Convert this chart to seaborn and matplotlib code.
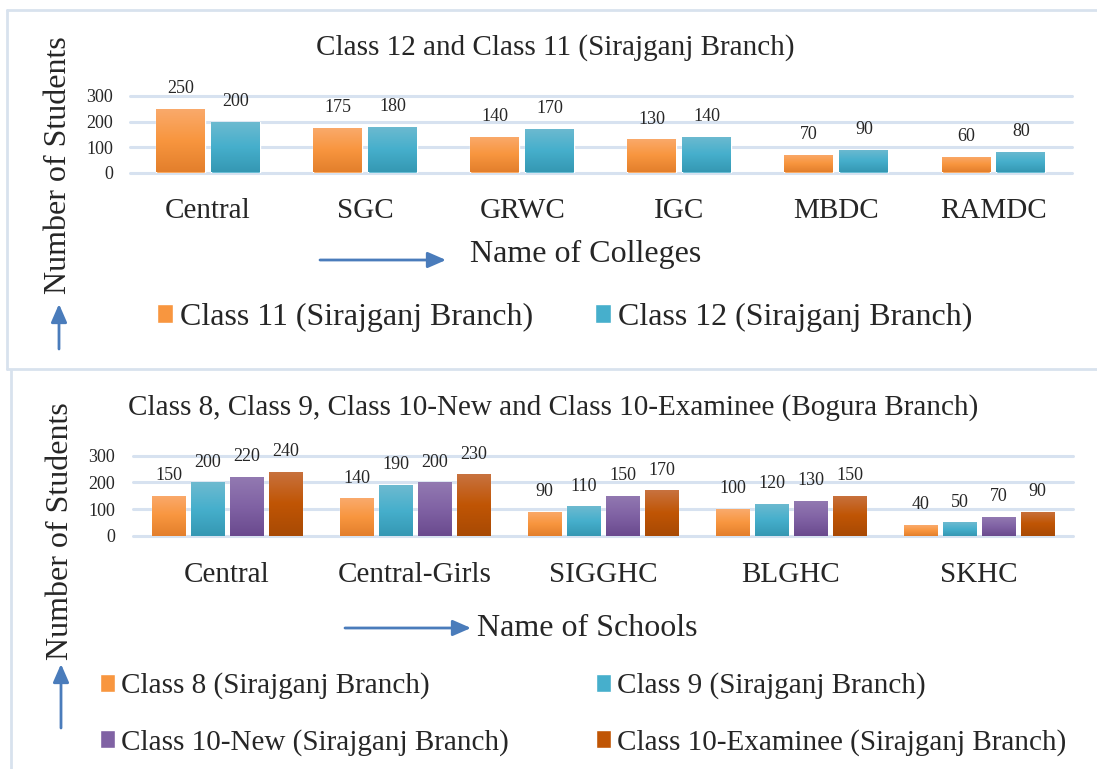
import numpy as np
import pandas as pd
import matplotlib
matplotlib.use("Agg")
import matplotlib.pyplot as plt
import seaborn as sns
from matplotlib.patches import FancyArrowPatch
from matplotlib.lines import Line2D
from matplotlib.colors import to_rgb

# ---------------- data ----------------
colleges = ["Central", "SGC", "GRWC", "IGC", "MBDC", "RAMDC"]
class11 = [250, 175, 140, 130, 70, 60]
class12 = [200, 180, 170, 140, 90, 80]
college_series = ["Class 11 (Sirajganj Branch)", "Class 12 (Sirajganj Branch)"]

schools = ["Central", "Central-Girls", "SIGGHC", "BLGHC", "SKHC"]
class8 = [150, 140, 90, 100, 40]
class9 = [200, 190, 110, 120, 50]
class10_new = [220, 200, 150, 130, 70]
class10_exam = [240, 230, 170, 150, 90]
school_series = ["Class 8 (Sirajganj Branch)", "Class 9 (Sirajganj Branch)",
                 "Class 10-New (Sirajganj Branch)", "Class 10-Examinee (Sirajganj Branch)"]

top_title = "Class 12 and Class 11 (Sirajganj Branch)"
bottom_title = "Class 8, Class 9, Class 10-New and Class 10-Examinee (Bogura Branch)"
yticks = [0, 100, 200, 300]

# ---------------- style ----------------
sns.set_style("white")
plt.rcParams["font.family"] = ["Liberation Serif", "DejaVu Serif"]

W, H = 1097, 769
fig = plt.figure(figsize=(W / 100, H / 100), dpi=100)

mid_cols = ["#F8963F", "#46AFCC", "#8062A4", "#C05504"]
top_cols = ["#FAAA6C", "#6DBAD0", "#9279B1", "#C8723F"]
bot_cols = ["#E37F2C", "#3598B3", "#6A4A8E", "#A84A05"]
grid_col = "#D7E2F0"
arrow_col = "#4A7CBB"
border_col = "#D8E2EE"


def px(x, y):
    return x / W, 1 - y / H


def ftext(x, y, s, **kw):
    fx, fy = px(x, y)
    return fig.text(fx, fy, s, **kw)


def add_gradient(ax, ci, container):
    c_top = np.array(to_rgb(top_cols[ci]))
    c_mid = np.array(to_rgb(mid_cols[ci]))
    c_bot = np.array(to_rgb(bot_cols[ci]))
    t = np.linspace(0, 1, 64)[:, None]  # 0 bottom -> 1 top
    grad = np.where(t < 0.5,
                    c_bot + (c_mid - c_bot) * (t / 0.5),
                    c_mid + (c_top - c_mid) * ((t - 0.5) / 0.5))
    img = grad[:, None, :]
    for p in container.patches:
        x0, y0, w, h = p.get_x(), p.get_y(), p.get_width(), p.get_height()
        im = ax.imshow(img, extent=[x0, x0 + w, y0, y0 + h], origin="lower",
                       aspect="auto", zorder=p.get_zorder() + 0.1, interpolation="bilinear")
        im.set_clip_path(p)


def style_axes(ax, ncat, ytick_pad, xtick_pad):
    ax.set_ylim(0, 300)
    ax.set_xlim(-0.5, ncat - 0.5)
    ax.set_yticks(yticks)
    ax.set_yticklabels([str(v) for v in yticks], fontsize=13)
    ax.tick_params(axis="y", length=0, pad=ytick_pad)
    ax.tick_params(axis="x", length=0, pad=xtick_pad, labelsize=21)
    for s in ax.spines.values():
        s.set_visible(False)
    ax.set_xlabel("")
    ax.set_ylabel("")
    ax.grid(False)
    for v in yticks:
        ax.axhline(v, color=grid_col, lw=2.2, zorder=0, clip_on=False)


def draw_arrow(x0, y0, x1, y1):
    a = FancyArrowPatch(px(x0, y0), px(x1, y1), transform=fig.transFigure,
                        arrowstyle="-|>,head_length=0.55,head_width=0.24",
                        mutation_scale=20, lw=2, color=arrow_col,
                        shrinkA=0, shrinkB=0)
    fig.add_artist(a)


# ---------------- top panel ----------------
df_top = pd.DataFrame({
    "cat": colleges * 2,
    "val": class11 + class12,
    "series": [college_series[0]] * len(colleges) + [college_series[1]] * len(colleges),
})
ax1 = fig.add_axes([129.5 / W, 1 - 172.5 / H, (1072 - 129.5) / W, 76.5 / H])
sns.barplot(data=df_top, x="cat", y="val", hue="series", order=colleges,
            hue_order=college_series, palette=dict(zip(college_series, mid_cols[:2])),
            width=0.70, gap=0.11, ax=ax1, legend=True, saturation=1, errorbar=None)
h1, l1 = ax1.get_legend_handles_labels()
ax1.get_legend().remove()
style_axes(ax1, len(colleges), 12, 18.4)
for ci, cont in enumerate(ax1.containers):
    add_gradient(ax1, ci, cont)
    ax1.bar_label(cont, fmt="{:.0f}", padding=8.5, fontsize=13, clip_on=False)
ax1.set_ylim(0, 300)
ax1.set_xlim(-0.5, len(colleges) - 0.5)

ftext(555, 48, top_title, ha="center", va="center", fontsize=21)
ftext(470, 254, "Name of Colleges", ha="left", va="center", fontsize=23)
draw_arrow(320, 260, 446, 260)
ftext(59, 165, "Number of Students", rotation=90, ha="center", va="center", fontsize=23)
draw_arrow(59, 349, 59, 304)

fig.legend(h1, l1, loc="center left", bbox_to_anchor=px(157, 317),
           bbox_transform=fig.transFigure, frameon=False, ncol=2,
           borderpad=0, borderaxespad=0, handlelength=0.5, handleheight=0.55,
           handletextpad=0.22, columnspacing=1.94, prop={"size": 23})

# ---------------- bottom panel ----------------
df_bot = pd.DataFrame({
    "cat": schools * 4,
    "val": class8 + class9 + class10_new + class10_exam,
    "series": sum([[s] * len(schools) for s in school_series], []),
})
ax2 = fig.add_axes([133 / W, 1 - 535.7 / H, 940 / W, 80 / H])
sns.barplot(data=df_bot, x="cat", y="val", hue="series", order=schools,
            hue_order=school_series, palette=dict(zip(school_series, mid_cols)),
            width=0.83, gap=0.13, ax=ax2, legend=True, saturation=1, errorbar=None)
h2, l2 = ax2.get_legend_handles_labels()
ax2.get_legend().remove()
style_axes(ax2, len(schools), 13, 18.7)
for ci, cont in enumerate(ax2.containers):
    add_gradient(ax2, ci, cont)
    ax2.bar_label(cont, fmt="{:.0f}", padding=8.5, fontsize=13, clip_on=False)
ax2.set_ylim(0, 300)
ax2.set_xlim(-0.5, len(schools) - 0.5)

ftext(553, 408, bottom_title, ha="center", va="center", fontsize=21)
ftext(477, 629, "Name of Schools", ha="left", va="center", fontsize=23)
draw_arrow(345, 628, 471, 628)
ftext(61, 531, "Number of Students", rotation=90, ha="center", va="center", fontsize=23)
draw_arrow(61, 728, 61, 664)

# legend filled row-wise: (8, 9) on the first row, (10-New, 10-Examinee) on the second
order = [0, 2, 1, 3]
fig.legend([h2[i] for i in order], [l2[i] for i in order], loc="center left",
           bbox_to_anchor=px(100, 714),
           bbox_transform=fig.transFigure, frameon=False, ncol=2,
           borderpad=0, borderaxespad=0, handlelength=0.5, handleheight=0.55,
           handletextpad=0.22, columnspacing=3.0, labelspacing=1.0,
           prop={"size": 21})

# ---------------- panel borders ----------------
for (x0, y0, x1, y1) in [(7, 10, 1097, 10), (7, 10, 7, 369), (7, 369, 1097, 369),
                         (11, 370, 11, 769)]:
    (a, b), (c, d) = px(x0, y0), px(x1, y1)
    fig.add_artist(Line2D([a, c], [b, d], transform=fig.transFigure,
                          color=border_col, lw=2))

fig.savefig("out.png", dpi=100)
